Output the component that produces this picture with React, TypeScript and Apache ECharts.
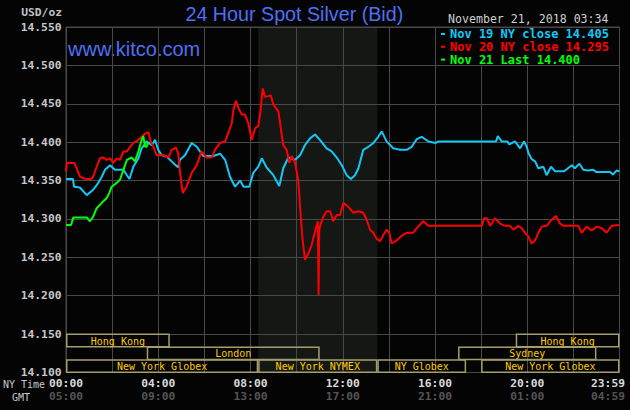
import React, { useEffect, useRef } from 'react';
import * as echarts from 'echarts';

// ---- data (hours since 00:00 NY time, price in USD/oz) ----
const nov19Hours = [0, 0.3, 0.35, 0.6, 0.9, 1.18, 1.4, 1.55, 1.69, 1.91, 2.12, 2.49, 2.64, 2.75, 2.92, 3.14, 3.28, 3.5, 3.72, 3.86, 4.0, 4.15, 4.37, 4.65, 4.87, 4.94, 5.16, 5.45, 5.67, 5.81, 5.95, 6.39, 6.68, 6.9, 7.11, 7.33, 7.55, 7.7, 7.95, 8.12, 8.34, 8.49, 8.7, 8.99, 9.25, 9.42, 9.64, 9.93, 10.15, 10.36, 10.58, 10.8, 11.01, 11.3, 11.52, 11.74, 11.96, 12.17, 12.35, 12.53, 12.68, 12.89, 13.11, 13.33, 13.54, 13.69, 13.9, 14.19, 14.48, 14.77, 14.99, 15.21, 15.42, 15.71, 16.03, 16.15, 18.65, 18.72, 18.89, 19.14, 19.22, 19.47, 19.69, 19.86, 19.98, 20.05, 20.19, 20.34, 20.48, 20.7, 20.84, 21.03, 21.21, 21.6, 21.93, 22.07, 22.26, 22.43, 22.65, 22.86, 23.0, 23.6, 23.71, 23.88, 24];
const nov19Values = [14.352, 14.352, 14.342, 14.341, 14.331, 14.338, 14.347, 14.355, 14.364, 14.370, 14.364, 14.364, 14.357, 14.352, 14.368, 14.379, 14.392, 14.401, 14.396, 14.403, 14.390, 14.383, 14.381, 14.373, 14.367, 14.377, 14.383, 14.399, 14.394, 14.388, 14.382, 14.382, 14.385, 14.377, 14.355, 14.342, 14.350, 14.342, 14.342, 14.360, 14.368, 14.379, 14.367, 14.357, 14.343, 14.366, 14.380, 14.377, 14.383, 14.396, 14.405, 14.410, 14.403, 14.392, 14.388, 14.380, 14.370, 14.357, 14.352, 14.357, 14.366, 14.390, 14.394, 14.399, 14.407, 14.414, 14.401, 14.392, 14.390, 14.390, 14.394, 14.404, 14.407, 14.401, 14.399, 14.401, 14.401, 14.408, 14.401, 14.401, 14.397, 14.401, 14.392, 14.401, 14.394, 14.386, 14.378, 14.375, 14.366, 14.368, 14.357, 14.368, 14.362, 14.362, 14.370, 14.366, 14.372, 14.364, 14.363, 14.364, 14.361, 14.361, 14.358, 14.363, 14.362];

const nov20Hours = [0, 0.03, 0.36, 0.46, 0.61, 0.75, 0.9, 1.1, 1.18, 1.33, 1.47, 1.62, 1.76, 1.91, 2.05, 2.2, 2.34, 2.49, 2.64, 2.78, 2.92, 3.06, 3.21, 3.43, 3.57, 3.67, 3.79, 3.93, 4.22, 4.44, 4.58, 4.77, 4.87, 4.94, 5.06, 5.23, 5.45, 5.67, 5.88, 6.1, 6.32, 6.46, 6.68, 6.9, 7.04, 7.19, 7.26, 7.37, 7.47, 7.62, 7.76, 7.9, 8.05, 8.2, 8.34, 8.44, 8.53, 8.63, 8.77, 8.88, 8.99, 9.21, 9.28, 9.42, 9.57, 9.68, 9.79, 9.93, 10.07, 10.18, 10.26, 10.36, 10.51, 10.65, 10.8, 10.92, 10.95, 10.98, 11.01, 11.16, 11.3, 11.45, 11.59, 11.74, 11.88, 12.03, 12.24, 12.46, 12.68, 12.89, 13.04, 13.18, 13.33, 13.47, 13.62, 13.76, 13.9, 14.02, 14.12, 14.34, 14.55, 14.77, 15.06, 15.21, 15.49, 15.71, 18.03, 18.13, 18.24, 18.39, 18.6, 18.82, 19.04, 19.25, 19.4, 19.61, 19.76, 19.9, 20.05, 20.19, 20.34, 20.48, 20.63, 20.84, 21.06, 21.25, 21.42, 21.56, 22.22, 22.36, 22.58, 22.79, 23.01, 23.23, 23.44, 23.66, 24];
const nov20Values = [14.362, 14.373, 14.373, 14.366, 14.355, 14.353, 14.352, 14.352, 14.355, 14.368, 14.379, 14.380, 14.377, 14.379, 14.373, 14.379, 14.377, 14.388, 14.388, 14.394, 14.399, 14.401, 14.405, 14.411, 14.413, 14.401, 14.394, 14.383, 14.383, 14.380, 14.390, 14.393, 14.385, 14.362, 14.334, 14.342, 14.360, 14.370, 14.388, 14.380, 14.380, 14.390, 14.399, 14.401, 14.412, 14.425, 14.442, 14.454, 14.445, 14.436, 14.436, 14.425, 14.403, 14.418, 14.421, 14.442, 14.470, 14.459, 14.460, 14.461, 14.449, 14.440, 14.425, 14.396, 14.390, 14.373, 14.382, 14.373, 14.351, 14.303, 14.273, 14.247, 14.255, 14.266, 14.284, 14.297, 14.201, 14.285, 14.290, 14.303, 14.310, 14.310, 14.297, 14.305, 14.305, 14.321, 14.316, 14.308, 14.310, 14.308, 14.299, 14.286, 14.282, 14.274, 14.271, 14.279, 14.286, 14.282, 14.268, 14.272, 14.278, 14.282, 14.282, 14.288, 14.297, 14.291, 14.291, 14.301, 14.301, 14.291, 14.301, 14.294, 14.291, 14.291, 14.286, 14.291, 14.288, 14.282, 14.277, 14.268, 14.272, 14.282, 14.290, 14.291, 14.299, 14.304, 14.294, 14.291, 14.291, 14.282, 14.290, 14.285, 14.290, 14.288, 14.282, 14.291, 14.292];

const nov21Hours = [0, 0.22, 0.32, 0.9, 1.04, 1.18, 1.33, 1.55, 1.76, 1.88, 1.98, 2.2, 2.34, 2.49, 2.64, 2.85, 2.99, 3.14, 3.28, 3.35, 3.43, 3.5, 3.567];
const nov21Values = [14.292, 14.292, 14.302, 14.302, 14.297, 14.303, 14.314, 14.321, 14.327, 14.334, 14.342, 14.347, 14.351, 14.364, 14.377, 14.380, 14.375, 14.388, 14.403, 14.408, 14.394, 14.394, 14.400];

const seriesNames = ['Nov 19 NY close 14.405', 'Nov 20 NY close 14.295', 'Nov 21 Last 14.400'];
const seriesColors = ['#12c8f5', '#ff0000', '#00ff00'];

const xTickHours = [0, 4, 8, 12, 16, 20, 24];
const nyTimeLabels = ['00:00', '04:00', '08:00', '12:00', '16:00', '20:00', '23:59'];
const gmtLabels = ['05:00', '09:00', '13:00', '17:00', '21:00', '01:00', '04:59'];

const nymexStart = 8.333;
const nymexEnd = 13.5;

const sessionNames = ['Hong Kong', 'Hong Kong', 'London', 'Sydney', 'New York Globex', 'New York NYMEX', 'NY Globex', 'New York Globex'];
const sessionStarts = [0, 19.5, 3.5, 17.0, 0, 8.333, 13.5, 18.0];
const sessionEnds = [4.5, 24, 11.0, 23.0, 8.333, 13.5, 17.35, 24];
const sessionRows = [0, 0, 1, 1, 2, 2, 2, 2];

const Y_MIN = 14.1;
const Y_MAX = 14.55;
const Y_STEP = 0.05;
const SESSION_TOP = 14.15;

const MONO = '"DejaVu Sans Mono", "Liberation Mono", monospace';
const SANS = '"Liberation Sans", Arial, sans-serif';
const BG = '#040405';
const GRID = '#484848';

export default function App() {
  const ref = useRef<HTMLDivElement>(null);

  useEffect(() => {
    if (!ref.current) return;
    const chart = echarts.init(ref.current, null, { renderer: 'svg' });

    const lineData = [
      nov19Hours.map((h, i) => [h, nov19Values[i]]),
      nov20Hours.map((h, i) => [h, nov20Values[i]]),
      nov21Hours.map((h, i) => [h, nov21Values[i]]),
    ];

    const option: any = {
      animation: false,
      backgroundColor: BG,
      grid: {
        left: 66,
        right: 10.5,
        top: 27,
        bottom: 37.5,
        show: true,
        borderColor: GRID,
        borderWidth: 1,
        backgroundColor: 'transparent',
        containLabel: false,
        outerBoundsMode: 'none',
      },
      xAxis: {
        type: 'value',
        min: 0,
        max: 24,
        interval: 2,
        axisLine: { show: false },
        axisTick: { show: false },
        splitLine: { show: true, lineStyle: { color: GRID, width: 1 } },
        axisLabel: {
          show: true,
          margin: 4,
          showMinLabel: true,
          showMaxLabel: true,
          hideOverlap: false,
          formatter: (v: number) => {
            const i = xTickHours.indexOf(v);
            if (i < 0) return '';
            if (v === 24) return `{ae|${nyTimeLabels[i]}}\n{be|${gmtLabels[i]}}`;
            return `{a|${nyTimeLabels[i]}}\n{b|${gmtLabels[i]}}`;
          },
          rich: {
            a: { color: '#dadada', fontWeight: 'bold', fontSize: 11.3, fontFamily: MONO, lineHeight: 13.5 },
            b: { color: '#555555', fontWeight: 'bold', fontSize: 11.3, fontFamily: MONO, lineHeight: 13.5 },
            ae: { color: '#dadada', fontWeight: 'bold', fontSize: 11.3, fontFamily: MONO, lineHeight: 13.5, padding: [0, 23, 0, 0] },
            be: { color: '#555555', fontWeight: 'bold', fontSize: 11.3, fontFamily: MONO, lineHeight: 13.5, padding: [0, 23, 0, 0] },
          },
        },
      },
      yAxis: {
        type: 'value',
        min: Y_MIN,
        max: Y_MAX,
        interval: Y_STEP,
        axisLine: { show: false },
        axisTick: { show: false },
        splitLine: { show: true, lineStyle: { color: GRID, width: 1 } },
        axisLabel: {
          margin: 4.5,
          color: '#c8c8c8',
          fontFamily: MONO,
          fontWeight: 'bold',
          fontSize: 11.3,
          formatter: (v: number) => v.toFixed(3),
        },
      },
      legend: {
        show: true,
        orient: 'vertical',
        left: 441,
        top: 28,
        padding: 0,
        itemGap: 0.8,
        itemWidth: 4,
        itemHeight: 2,
        icon: 'rect',
        selectedMode: false,
        textStyle: { fontFamily: MONO, fontSize: 12, fontWeight: 'bold', lineHeight: 12 },
        data: seriesNames.map((n, i) => ({ name: n, textStyle: { color: seriesColors[i] } })),
      },
      graphic: [
        { type: 'text', right: 630 - 62, top: 7, style: { text: 'USD/oz', fill: '#c0c0c0', font: `bold 11.3px ${MONO}` } },
        { type: 'text', left: 185.5, top: 4, style: { text: '24 Hour Spot Silver (Bid)', fill: '#4f6ff5', font: `19.7px ${SANS}` } },
        { type: 'text', left: 448, top: 13, style: { text: 'November 21, 2018 03:34', fill: '#cfcfcf', font: `11.6px ${MONO}` } },
        { type: 'text', left: 68, top: 39, style: { text: 'www.kitco.com', fill: '#4f6ff5', font: `20px ${SANS}` } },
        { type: 'text', left: 3, top: 379, style: { text: 'NY Time', fill: '#c8c8c8', font: `10px ${MONO}`, lineHeight: 10 } },
        { type: 'text', left: 12, top: 392, style: { text: 'GMT', fill: '#c8c8c8', font: `10px ${MONO}`, lineHeight: 10 } },
      ],
      series: [
        {
          type: 'custom',
          name: 'nymex-shade',
          z: -1,
          silent: true,
          data: [[nymexStart, nymexEnd]],
          renderItem: (params: any, api: any) => {
            const a = api.coord([api.value(0), Y_MAX]);
            const b = api.coord([api.value(1), Y_MIN]);
            return {
              type: 'rect',
              shape: { x: a[0], y: a[1], width: b[0] - a[0], height: b[1] - a[1] },
              style: { fill: '#141714' },
            };
          },
        },
        {
          type: 'custom',
          name: 'legend-box',
          z: 1,
          silent: true,
          data: [[16, 24, 14.5, 14.55]],
          renderItem: (params: any, api: any) => {
            const a = api.coord([api.value(0), api.value(3)]);
            const b = api.coord([api.value(1), api.value(2)]);
            return {
              type: 'rect',
              shape: { x: a[0] + 1, y: a[1] + 1, width: b[0] - a[0] - 2, height: b[1] - a[1] - 2 },
              style: { fill: BG },
            };
          },
        },
        ...lineData.map((d, i) => ({
          type: 'line',
          name: seriesNames[i],
          data: d,
          showSymbol: false,
          symbol: 'none',
          z: 2 + i,
          color: seriesColors[i],
          lineStyle: { color: seriesColors[i], width: 2 },
          clip: true,
        })),
        {
          type: 'custom',
          name: 'sessions',
          z: 6,
          silent: true,
          data: sessionStarts.map((s, i) => [s, sessionEnds[i], sessionRows[i]]),
          renderItem: (params: any, api: any) => {
            const i = params.dataIndex;
            const top = api.coord([0, SESSION_TOP])[1];
            const bottom = api.coord([0, Y_MIN])[1];
            const rh = (bottom - top) / 3;
            const x0 = api.coord([sessionStarts[i], Y_MIN])[0];
            const x1 = api.coord([sessionEnds[i], Y_MIN])[0];
            const y0 = top + sessionRows[i] * rh;
            return {
              type: 'group',
              children: [
                {
                  type: 'rect',
                  shape: { x: x0 + 0.75, y: y0 + 0.25, width: x1 - x0 - 1.5, height: rh - 0.5 },
                  style: { fill: 'none', stroke: '#a39e6c', lineWidth: 1.5 },
                },
                {
                  type: 'text',
                  style: {
                    text: sessionNames[i],
                    x: (x0 + x1) / 2,
                    y: y0 + rh / 2 + 0.5,
                    align: 'center',
                    verticalAlign: 'middle',
                    fill: '#ffcc00',
                    font: `10px ${MONO}`,
                  },
                },
              ],
            };
          },
        },
      ],
    };

    chart.setOption(option);
    return () => chart.dispose();
  }, []);

  return (
    <div
      ref={ref}
      style={{ position: 'fixed', left: 0, top: 0, width: 630, height: 410, background: BG }}
    />
  );
}
